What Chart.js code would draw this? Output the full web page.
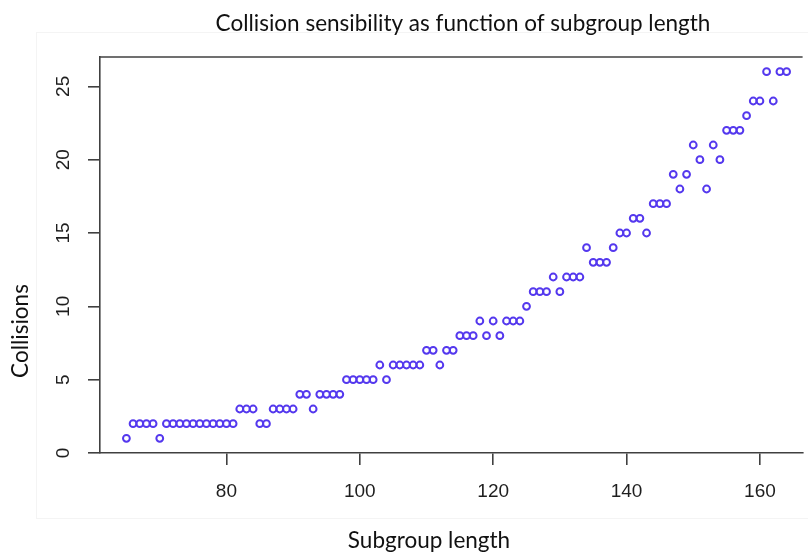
<!DOCTYPE html>
<html>
<head>
<meta charset="utf-8">
<script src="https://cdn.jsdelivr.net/npm/chart.js@4"></script>
<style>
  html, body { margin: 0; padding: 0; background: #fff; }
  #wrap { width: 808px; height: 554px; }
</style>
</head>
<body>
<div id="wrap"><canvas id="collision_chart" width="808" height="554"></canvas></div>
<script>
// subgroup length (x) and number of collisions (y)
const subgroupLength = [
  65, 66, 67, 68, 69, 70, 71, 72, 73, 74,
  75, 76, 77, 78, 79, 80, 81, 82, 83, 84,
  85, 86, 87, 88, 89, 90, 91, 92, 93, 94,
  95, 96, 97, 98, 99, 100, 101, 102, 103, 104,
  105, 106, 107, 108, 109, 110, 111, 112, 113, 114,
  115, 116, 117, 118, 119, 120, 121, 122, 123, 124,
  125, 126, 127, 128, 129, 130, 131, 132, 133, 134,
  135, 136, 137, 138, 139, 140, 141, 142, 143, 144,
  145, 146, 147, 148, 149, 150, 151, 152, 153, 154,
  155, 156, 157, 158, 159, 160, 161, 162, 163, 164,
]
const collisions = [
  1, 2, 2, 2, 2, 1, 2, 2, 2, 2,
  2, 2, 2, 2, 2, 2, 2, 3, 3, 3,
  2, 2, 3, 3, 3, 3, 4, 4, 3, 4,
  4, 4, 4, 5, 5, 5, 5, 5, 6, 5,
  6, 6, 6, 6, 6, 7, 7, 6, 7, 7,
  8, 8, 8, 9, 8, 9, 8, 9, 9, 9,
  10, 11, 11, 11, 12, 11, 12, 12, 12, 14,
  13, 13, 13, 14, 15, 15, 16, 16, 15, 17,
  17, 17, 19, 18, 19, 21, 20, 18, 21, 20,
  22, 22, 22, 23, 24, 24, 26, 24, 26, 26,
]
const xTicks = [80, 100, 120, 140, 160]
const yTicks = [0, 5, 10, 15, 20, 25]

const TITLE = 'Collision sensibility as function of subgroup length'
const X_TITLE = 'Subgroup length'
const Y_TITLE = 'Collisions'

const AXIS_COLOR = '#404040'
const TEXT_COLOR = '#1e1e1e'
const POINT_COLOR = 'rgb(84, 56, 238)'
const R_FONT = '"Liberation Sans", Arial, sans-serif'
const DOC_FONT = 'Lato, "Noto Sans", sans-serif'

let points = []
for (let i = 0; i < subgroupLength.length; i++) {
  points.push({ x: subgroupLength[i], y: collisions[i] })
}

// draws the rest of the R style box and the texts outside the plot
const textPlugin = {
  id: 'r_texts',
  afterDraw(chart) {
    const ctx = chart.ctx
    const area = chart.chartArea
    const yScale = chart.scales.y

    ctx.save()
    // faint frame of the pasted picture
    ctx.strokeStyle = '#f4f4f4'
    ctx.lineWidth = 1
    ctx.strokeRect(36.5, 32.5, 800, 486)

    // top line of the box
    ctx.strokeStyle = AXIS_COLOR
    ctx.lineWidth = 1.5
    ctx.beginPath()
    ctx.moveTo(area.left, area.top)
    ctx.lineTo(area.right, area.top)
    ctx.stroke()

    // rotated y tick labels
    ctx.fillStyle = TEXT_COLOR
    ctx.font = '19px ' + R_FONT
    ctx.textAlign = 'center'
    ctx.textBaseline = 'middle'
    for (const v of yTicks) {
      const py = yScale.getPixelForValue(v)
      ctx.save()
      ctx.translate(64, py)
      ctx.rotate(-Math.PI / 2)
      ctx.fillText(String(v), 0, 0)
      ctx.restore()
    }

    // titles
    ctx.fillStyle = '#111111'
    ctx.font = '22.5px ' + DOC_FONT
    ctx.textBaseline = 'alphabetic'
    ctx.fillText(TITLE, 463, 31)
    ctx.textBaseline = 'middle'
    ctx.fillText(X_TITLE, 429, 541)
    ctx.save()
    ctx.translate(21, 331)
    ctx.rotate(-Math.PI / 2)
    ctx.fillText(Y_TITLE, 0, 0)
    ctx.restore()
    ctx.restore()
  },
}

let config = {
  type: 'scatter',
  data: {
    datasets: [
      {
        label: 'Collisions',
        data: points,
        borderColor: POINT_COLOR,
        backgroundColor: 'rgba(0,0,0,0)',
        pointRadius: 3.4,
        pointHoverRadius: 3.4,
        pointBorderWidth: 2,
      },
    ],
  },
  options: {
    responsive: false,
    animation: false,
    devicePixelRatio: 1,
    layout: { padding: { top: 57, left: 0, right: 0, bottom: 0 } },
    plugins: {
      legend: { display: false },
      title: { display: false },
      tooltip: { enabled: false },
    },
    scales: {
      x: {
        type: 'linear',
        min: 61.04,
        max: 166.4,
        afterBuildTicks: (scale) => { scale.ticks = xTicks.map((v) => ({ value: v })) },
        afterFit: (scale) => { scale.height = 101 },
        border: { display: true, color: AXIS_COLOR, width: 1.6 },
        grid: { drawOnChartArea: false, drawTicks: true, tickLength: 12, color: AXIS_COLOR, lineWidth: 1.6 },
        ticks: { color: TEXT_COLOR, font: { family: R_FONT, size: 19 }, padding: 15, maxRotation: 0 },
      },
      y: {
        type: 'linear',
        min: 0,
        max: 27,
        afterBuildTicks: (scale) => { scale.ticks = yTicks.map((v) => ({ value: v })) },
        afterFit: (scale) => { scale.width = 100 },
        border: { display: true, color: AXIS_COLOR, width: 1.6 },
        grid: { drawOnChartArea: false, drawTicks: true, tickLength: 12, color: AXIS_COLOR, lineWidth: 1.6 },
        ticks: { color: 'rgba(0,0,0,0)', font: { family: R_FONT, size: 19 } },
      },
    },
  },
  plugins: [textPlugin],
}

const collision_chart = new Chart(document.getElementById('collision_chart'), config)
</script>
</body>
</html>
